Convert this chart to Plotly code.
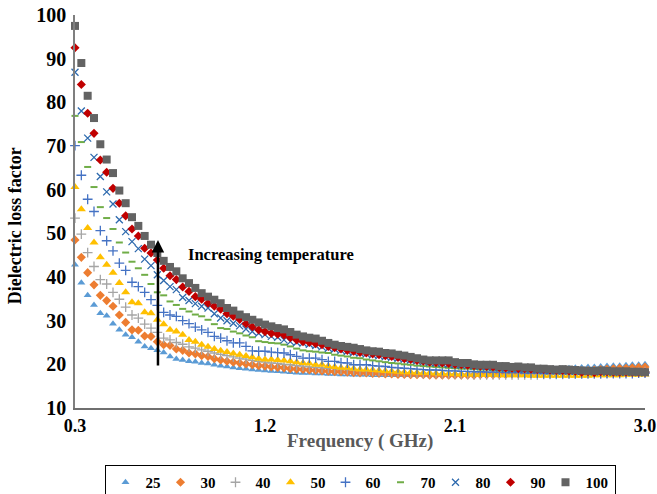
import plotly.graph_objects as go

freq = [round(0.30 + 0.03 * i, 2) for i in range(91)]

t25 = [42.8, 38.7, 35.8, 33.6, 31.7, 31.1, 29.3, 27.9, 26.8, 26.2,
       25.2, 24.1, 23.7, 23.2, 22.7, 21.8, 21.2, 21.0, 20.7, 20.6,
       20.3, 20.2, 19.9, 19.7, 19.5, 19.3, 19.1, 19.0, 18.8, 18.7,
       18.6, 18.5, 18.4, 18.3, 18.2, 18.1, 18.0, 18.0, 17.9, 17.9,
       17.8, 17.8, 17.7, 17.7, 17.6, 17.6, 17.6, 17.5, 17.5, 17.5,
       17.5, 17.5, 17.5, 17.5, 17.5, 17.6, 17.6, 17.6, 17.7, 17.7,
       17.8, 17.8, 17.9, 17.9, 18.0, 18.1, 18.1, 18.2, 18.3, 18.4,
       18.4, 18.5, 18.6, 18.7, 18.8, 18.8, 18.9, 19.0, 19.1, 19.2,
       19.3, 19.4, 19.4, 19.5, 19.6, 19.7, 19.7, 19.8, 19.9, 19.9, 20.0]

t30 = [48.5, 44.5, 41.0, 38.2, 35.8, 34.6, 33.3, 31.3, 29.6, 27.9,
       27.8, 26.5, 26.4, 25.2, 24.5, 24.3, 23.5, 23.2, 22.6, 22.4,
       22.0, 21.8, 21.3, 21.0, 20.7, 20.5, 20.3, 20.1, 19.9, 19.7,
       19.6, 19.4, 19.3, 19.2, 19.0, 18.9, 18.8, 18.7, 18.6, 18.5,
       18.4, 18.3, 18.3, 18.2, 18.1, 18.0, 18.0, 17.9, 17.9, 17.8,
       17.8, 17.7, 17.7, 17.6, 17.6, 17.6, 17.5, 17.5, 17.5, 17.5,
       17.5, 17.5, 17.5, 17.5, 17.6, 17.6, 17.6, 17.7, 17.7, 17.8,
       17.8, 17.9, 17.9, 18.0, 18.1, 18.1, 18.2, 18.3, 18.4, 18.5,
       18.5, 18.6, 18.7, 18.8, 18.9, 19.0, 19.1, 19.1, 19.2, 19.3, 19.4]

t40 = [53.5, 49.8, 45.6, 42.4, 39.4, 38.4, 36.5, 34.9, 33.1, 31.3,
       30.6, 29.2, 28.3, 27.3, 26.0, 25.6, 25.0, 24.6, 24.0, 23.7,
       23.3, 23.0, 22.6, 22.3, 22.0, 21.7, 21.4, 21.2, 20.9, 20.7,
       20.5, 20.3, 20.2, 20.0, 19.9, 19.7, 19.6, 19.4, 19.3, 19.2,
       19.1, 19.0, 18.9, 18.8, 18.7, 18.6, 18.5, 18.4, 18.4, 18.3,
       18.2, 18.2, 18.1, 18.0, 18.0, 17.9, 17.9, 17.8, 17.8, 17.8,
       17.7, 17.7, 17.7, 17.6, 17.6, 17.6, 17.6, 17.6, 17.6, 17.6,
       17.6, 17.6, 17.6, 17.6, 17.7, 17.7, 17.7, 17.7, 17.8, 17.8,
       17.8, 17.9, 17.9, 17.9, 18.0, 18.0, 18.1, 18.1, 18.2, 18.2, 18.3]

t50 = [60.6, 55.5, 51.2, 47.9, 44.5, 42.8, 41.0, 38.6, 36.5, 34.2,
       34.0, 31.9, 31.7, 30.2, 29.2, 27.9, 27.5, 26.8, 25.6, 25.2,
       24.5, 24.0, 23.5, 23.1, 22.8, 22.5, 22.2, 21.9, 21.6, 21.3,
       21.1, 21.1, 21.0, 20.9, 20.7, 20.5, 20.3, 20.2, 19.9, 19.9,
       19.6, 19.4, 19.2, 19.2, 19.0, 18.8, 18.8, 18.7, 18.6, 18.5,
       18.4, 18.3, 18.2, 18.2, 18.1, 18.0, 18.0, 17.9, 17.9, 17.8,
       17.8, 17.7, 17.7, 17.7, 17.6, 17.6, 17.6, 17.5, 17.5, 17.5,
       17.5, 17.5, 17.4, 17.4, 17.4, 17.4, 17.4, 17.4, 17.4, 17.4,
       17.4, 17.4, 17.5, 17.5, 17.5, 17.5, 17.5, 17.6, 17.6, 17.6, 17.7]

t60 = [70.1, 63.3, 57.8, 55.0, 50.6, 48.3, 46.0, 43.2, 41.5, 38.8,
       37.8, 36.5, 34.8, 33.5, 31.9, 31.3, 31.0, 30.0, 29.3, 28.5,
       27.9, 27.3, 26.4, 26.0, 25.4, 24.9, 24.9, 24.1, 23.1, 23.0,
       23.0, 22.8, 22.7, 22.6, 22.2, 21.8, 21.4, 21.4, 21.4, 21.1,
       20.7, 20.7, 20.4, 20.3, 19.9, 19.9, 19.9, 19.7, 19.6, 19.5,
       19.3, 19.2, 19.1, 19.0, 18.9, 18.8, 18.7, 18.7, 18.6, 18.5,
       18.5, 18.4, 18.4, 18.3, 18.3, 18.2, 18.2, 18.2, 18.1, 18.1,
       18.1, 18.0, 18.0, 18.0, 17.9, 17.9, 17.9, 17.9, 17.9, 17.9,
       17.9, 17.9, 17.9, 17.9, 17.9, 17.9, 17.9, 17.9, 17.9, 18.0, 18.0]

t70 = [76.9, 70.9, 65.2, 60.6, 56.0, 53.5, 51.0, 47.9, 45.6, 43.5,
       42.0, 40.5, 38.4, 36.5, 35.8, 34.4, 33.6, 32.7, 32.1, 31.4,
       31.0, 30.2, 29.2, 28.3, 28.1, 27.5, 27.1, 26.6, 26.2, 25.3,
       25.1, 24.9, 24.8, 24.5, 24.1, 23.6, 23.2, 23.0, 22.9, 22.7,
       22.6, 22.2, 22.0, 21.8, 21.5, 21.4, 21.1, 20.9, 20.7, 20.5,
       20.3, 20.2, 20.0, 19.9, 19.7, 19.6, 19.5, 19.4, 19.3, 19.2,
       19.1, 19.0, 19.0, 18.9, 18.8, 18.8, 18.7, 18.6, 18.6, 18.5,
       18.5, 18.4, 18.4, 18.3, 18.3, 18.3, 18.2, 18.2, 18.2, 18.1,
       18.1, 18.1, 18.1, 18.0, 18.0, 18.0, 18.0, 18.0, 18.0, 18.0, 18.0]

t80 = [86.9, 78.0, 71.8, 67.4, 63.0, 59.5, 56.7, 53.1, 50.4, 48.1,
       46.5, 44.1, 42.6, 40.5, 39.2, 37.8, 37.1, 35.3, 34.6, 33.9,
       33.3, 32.9, 31.6, 30.6, 30.0, 29.4, 28.8, 28.1, 27.5, 27.1,
       26.8, 26.4, 26.2, 25.6, 25.2, 25.0, 24.9, 24.6, 24.3, 24.0,
       23.7, 23.5, 23.2, 23.0, 22.7, 22.6, 22.4, 22.2, 22.0, 21.8,
       21.6, 21.4, 21.2, 21.0, 20.8, 20.6, 20.4, 20.3, 20.2, 20.0,
       19.9, 19.8, 19.7, 19.6, 19.5, 19.4, 19.3, 19.2, 19.1, 19.0,
       19.0, 18.9, 18.8, 18.8, 18.7, 18.6, 18.6, 18.5, 18.5, 18.4,
       18.4, 18.3, 18.3, 18.3, 18.2, 18.2, 18.2, 18.2, 18.2, 18.1, 18.1]

t90 = [92.5, 84.1, 77.5, 72.9, 66.8, 64.0, 60.3, 56.9, 54.0, 51.0,
       49.4, 46.6, 45.5, 43.9, 42.0, 40.3, 39.4, 37.7, 36.7, 35.5,
       34.9, 34.0, 33.3, 32.6, 31.6, 31.0, 30.3, 29.3, 28.6, 27.9,
       27.5, 27.1, 26.9, 26.7, 26.1, 25.6, 25.2, 25.0, 24.7, 24.5,
       24.1, 23.8, 23.5, 23.2, 23.0, 22.7, 22.6, 22.4, 22.2, 22.0,
       21.8, 21.6, 21.3, 21.1, 20.9, 20.7, 20.5, 20.4, 20.3, 20.2,
       20.0, 19.9, 19.8, 19.7, 19.6, 19.5, 19.4, 19.3, 19.2, 19.1,
       19.0, 19.0, 18.9, 18.8, 18.8, 18.7, 18.6, 18.6, 18.5, 18.4,
       18.2, 18.3, 18.1, 18.3, 18.3, 18.2, 18.2, 18.2, 18.2, 18.2, 18.2]

t100 = [97.5, 89.0, 81.5, 76.4, 70.4, 66.9, 63.8, 59.8, 56.9, 53.7,
        51.7, 49.4, 47.4, 45.5, 43.7, 42.3, 41.3, 39.7, 38.6, 37.5,
        36.3, 35.5, 34.8, 34.0, 32.9, 32.3, 31.4, 30.8, 30.2, 29.6,
        29.1, 28.7, 28.3, 28.0, 27.4, 26.8, 26.4, 26.1, 25.9, 25.4,
        24.9, 24.5, 24.2, 24.0, 23.8, 23.5, 23.2, 23.0, 22.9, 22.6,
        22.5, 22.2, 22.0, 21.7, 21.4, 21.1, 20.9, 20.9, 20.9, 20.9,
        20.5, 20.3, 20.3, 20.0, 19.9, 19.9, 19.9, 19.6, 19.6, 19.4,
        19.5, 19.3, 19.3, 19.0, 19.0, 18.9, 18.8, 18.9, 18.8, 18.7,
        18.6, 18.5, 18.5, 18.6, 18.5, 18.4, 18.4, 18.4, 18.3, 18.3, 18.2]

series_names = ["25", "30", "40", "50", "60", "70", "80", "90", "100"]
series_values = [t25, t30, t40, t50, t60, t70, t80, t90, t100]
colors = ["#5B9BD5", "#ED7D31", "#A5A5A5", "#FFC000", "#4472C4",
          "#70AD47", "#2E6AAE", "#C00000", "#636363"]
symbols = ["triangle-up", "diamond", "cross-thin", "triangle-up", "cross-thin",
           "line-ew", "x-thin", "diamond", "square"]
sizes = [7, 7, 7, 8, 7, 5, 7, 7, 8]
legend_widths = [10, 10, 10, 10, 10, 10, 10, 10, 24]

xticks = [0.3, 1.2, 2.1, 3.0]
xtick_text = ["0.3", "1.2", "2.1", "3.0"]
yticks = [10, 20, 30, 40, 50, 60, 70, 80, 90, 100]

SERIF = "Liberation Serif, Times New Roman, serif"

fig = go.Figure()
for name, vals, col, sym, sz, lw in zip(series_names, series_values, colors, symbols,
                                         sizes, legend_widths):
    thin = sym in ("cross-thin", "x-thin", "line-ew")
    fig.add_trace(go.Scatter(
        x=freq, y=vals, mode="markers", name=name, cliponaxis=False, legendwidth=lw,
        marker=dict(symbol=sym, size=sz, color=col,
                    line=dict(color=col, width=2 if sym == "line-ew" else (1.3 if thin else 0))),
    ))

fig.update_layout(
    width=657, height=494,
    margin=dict(l=75, r=12, t=15, b=86, autoexpand=False),
    paper_bgcolor="white", plot_bgcolor="white",
    font=dict(family=SERIF, size=15, color="black"),
    showlegend=True,
    legend=dict(
        orientation="h", x=0.5, xanchor="center", y=-0.145, yanchor="top",
        bordercolor="black", borderwidth=1, bgcolor="white",
        font=dict(family=SERIF, size=15, color="black", weight="bold"),
        itemwidth=30, entrywidthmode="pixels",
        traceorder="normal",
    ),
    xaxis=dict(
        range=[0.3, 3.0], tickvals=xticks, ticktext=xtick_text,
        showgrid=False, zeroline=False, showline=True, linecolor="#6F6F6F", linewidth=1.5,
        ticks="", ticklabelstandoff=1, ticklabeloverflow="allow",
        tickfont=dict(family=SERIF, size=18, color="black", weight="bold"),
    ),
    yaxis=dict(
        range=[10, 100], tickvals=yticks,
        showgrid=False, zeroline=False, showline=True, linecolor="#7F7F7F", linewidth=1.5,
        ticks="", ticklabelstandoff=3, ticklabeloverflow="allow",
        tickfont=dict(family=SERIF, size=20, color="black", weight="bold"),
    ),
    annotations=[
        dict(text="Frequency ( GHz)", xref="paper", yref="paper", x=0.5, y=-0.084,
             xanchor="center", yanchor="middle", showarrow=False,
             font=dict(family=SERIF, size=19, color="#595959", weight="bold")),
        dict(text="Dielectric loss factor", xref="paper", yref="paper", x=-0.105, y=0.463,
             xanchor="center", yanchor="middle", showarrow=False, textangle=-90,
             font=dict(family=SERIF, size=18, color="black", weight="bold")),
        dict(text="Increasing temperature", xref="x", yref="y", x=1.229, y=45.1,
             xanchor="center", yanchor="middle", showarrow=False,
             font=dict(family=SERIF, size=16.5, color="black", weight="bold")),
        dict(text="", xref="x", yref="y", x=0.693, y=48.5, axref="x", ayref="y",
             ax=0.693, ay=19.4, showarrow=True, arrowhead=2, arrowsize=1,
             arrowwidth=2.5, arrowcolor="black"),
    ],
)

fig.write_html(
    "out.html",
    config={"displayModeBar": False},
    post_script="document.body.style.margin='0';document.body.style.overflow='hidden';"
                "document.documentElement.style.overflow='hidden';",
)
